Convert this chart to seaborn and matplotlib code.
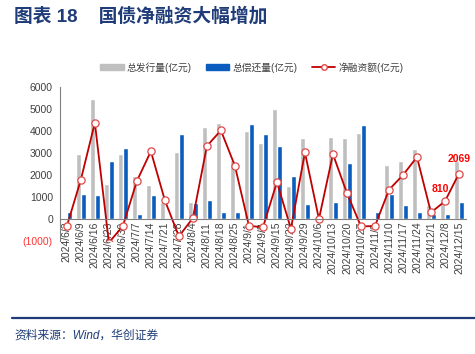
import numpy as np
import pandas as pd
import seaborn as sns
import matplotlib
matplotlib.use("Agg")
from matplotlib import pyplot as plt
from matplotlib.lines import Line2D
from matplotlib.patches import Patch

dates = ["2024/6/2", "2024/6/9", "2024/6/16", "2024/6/23", "2024/6/30", "2024/7/7",
         "2024/7/14", "2024/7/21", "2024/7/28", "2024/8/4", "2024/8/11", "2024/8/18",
         "2024/8/25", "2024/9/1", "2024/9/8", "2024/9/15", "2024/9/22", "2024/9/29",
         "2024/10/6", "2024/10/13", "2024/10/20", "2024/10/27", "2024/11/3", "2024/11/10",
         "2024/11/17", "2024/11/24", "2024/12/1", "2024/12/8", "2024/12/15"]
issue = [0, 2940, 5440, 1580, 2970, 1940, 1530, 770, 3060, 770, 4180, 4350, 2700, 4020,
         3450, 5020, 1500, 3700, 0, 3730, 3700, 3910, 0, 2480, 2620, 3170, 620, 800, 2650]
repay = [300, 1120, 1080, 2650, 3240, 230, 1080, 0, 3890, 710, 880, 300, 300, 4320,
         3850, 3320, 1940, 670, 0, 770, 2560, 4260, 300, 1150, 620, 300, 240, 230, 760]
net = [-320, 1790, 4380, -1070, -320, 1730, 3080, 850, -790, 50, 3320, 4030, 2420, -300,
       -380, 1680, -440, 3030, 0, 2950, 1180, -330, -320, 1330, 2000, 2820, 300, 810, 2069]

names = ["总发行量(亿元)", "总偿还量(亿元)", "净融资额(亿元)"]
gray, blue, red = "#BFBFBF", "#0A5DBE", "#C00000"
navy = "#1F3C78"

sns.set_style("white")
plt.rcParams["font.family"] = ["Liberation Sans", "Noto Sans CJK SC"]

df = pd.DataFrame({
    "date": dates * 2,
    "value": issue + repay,
    "kind": [names[0]] * len(dates) + [names[1]] * len(dates),
})

fig = plt.figure(figsize=(4.75, 3.54), dpi=100)
ax = fig.add_axes([0.126, 0.319, 0.855, 0.435])

sns.barplot(data=df, x="date", y="value", hue="kind", palette=[gray, blue],
            width=0.75, saturation=1, ax=ax, legend=False)
sns.lineplot(x=np.arange(len(dates)), y=net, color=red, lw=1.3, marker="o",
             markersize=5.2, markerfacecolor="white", markeredgecolor="#E04848",
             markeredgewidth=0.9, ax=ax)

ax.set_ylim(-1000, 6000)
ax.set_xlim(-0.5, len(dates) - 0.5)
ax.set_yticks(range(-1000, 6001, 1000))
ax.set_yticklabels(["(1000)"] + [str(v) for v in range(0, 6001, 1000)])
ax.set_xlabel("")
ax.set_ylabel("")

for s in ["top", "right"]:
    ax.spines[s].set_visible(False)
ax.spines["bottom"].set_position(("data", 0))
ax.spines["bottom"].set_color("#808080")
ax.spines["left"].set_color("#808080")
ax.spines["bottom"].set_linewidth(0.8)
ax.spines["left"].set_linewidth(0.8)

ax.set_xticks(np.arange(len(dates)))
ax.set_xticklabels(dates, rotation=90, fontsize=7.5, color="#404040")
ax.set_xticks(np.arange(len(dates) + 1) - 0.5, minor=True)
ax.tick_params(axis="x", which="major", length=0, pad=2)
ax.tick_params(axis="x", which="minor", length=3, color="#808080", direction="out")
ax.tick_params(axis="y", length=3, color="#808080", labelsize=7.5, labelcolor="#404040", pad=2)
ax.get_yticklabels()[0].set_color("#FF3333")

ax.annotate("810", (27, 810), xytext=(-3, 7), textcoords="offset points", ha="center",
            color="#FF0000", fontsize=7.5, fontweight="bold")
ax.annotate("2069", (28, 2069), xytext=(0, 8), textcoords="offset points", ha="center",
            color="#FF0000", fontsize=7.5, fontweight="bold")

handles = [Patch(color=gray), Patch(color=blue),
           Line2D([], [], color=red, lw=1.3, marker="o", markersize=4,
                  markerfacecolor="white", markeredgecolor="#E04848")]
fig.legend(handles, names, loc="center", bbox_to_anchor=(0.53, 0.81), ncol=3,
           frameon=False, fontsize=7, handlelength=2.4, handleheight=0.55,
           columnspacing=1.5, handletextpad=0.3, labelcolor="#404040")

fig.text(0.03, 0.955, "图表 18    国债净融资大幅增加", fontsize=13.5, fontweight="bold",
         color=navy, va="center")
fig.add_artist(Line2D([0.025, 1.0], [0.102, 0.102], color=navy, lw=1.6))
fig.text(0.03, 0.052, "资料来源：Wind，华创证券", fontsize=8.5, style="italic",
         color=navy, va="center")

fig.savefig("out.png", dpi=100)
